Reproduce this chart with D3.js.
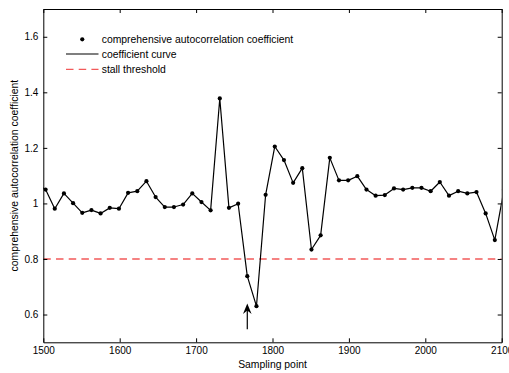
<!DOCTYPE html>
<html>
<head>
<meta charset="utf-8">
<script src="https://cdn.jsdelivr.net/npm/d3@7"></script>
<style>
  html, body { margin: 0; padding: 0; background: #fff; }
  svg { display: block; }
  text { font-family: Arial, "Liberation Sans", sans-serif; fill: #000; }
</style>
</head>
<body>
<svg id="chart" width="509" height="373"></svg>
<script>
// Sampling points (every 12 samples; the first and last fall just outside the axis range)
const samplePoints = [1491, 1503, 1515, 1527, 1539, 1551, 1563, 1575, 1587, 1599,
  1611, 1623, 1635, 1647, 1659, 1671, 1683, 1695, 1707, 1719,
  1731, 1743, 1755, 1767, 1779, 1791, 1803, 1815, 1827, 1839,
  1851, 1863, 1875, 1887, 1899, 1911, 1923, 1935, 1947, 1959,
  1971, 1983, 1995, 2007, 2019, 2031, 2043, 2055, 2067, 2079,
  2091, 2103];

// Comprehensive autocorrelation coefficient at each sampling point
const coefficients = [1.070, 1.050, 0.981, 1.036, 1.001, 0.966, 0.976, 0.964, 0.984, 0.981,
  1.038, 1.044, 1.080, 1.023, 0.987, 0.987, 0.996, 1.036, 1.005, 0.975,
  1.378, 0.984, 0.999, 0.738, 0.630, 1.031, 1.205, 1.156, 1.074, 1.127,
  0.834, 0.885, 1.164, 1.083, 1.083, 1.098, 1.050, 1.028, 1.030, 1.054,
  1.050, 1.056, 1.056, 1.044, 1.077, 1.028, 1.044, 1.036, 1.041, 0.964,
  0.868, 1.050];

const stallThreshold = 0.8;

// Axis ticks
const xTicks = [1500, 1600, 1700, 1800, 1900, 2000, 2100];
const yTicks = [0.6, 0.8, 1.0, 1.2, 1.4, 1.6];
const yTickLabels = ["0.6", "0.8", "1", "1.2", "1.4", "1.6"];

// Stall onset marker (arrow from base to tip, in data units)
const stallArrow = { x: 1767, yBase: 0.547, yTip: 0.640 };

const legendLabels = ["comprehensive autocorrelation coefficient", "coefficient curve", "stall threshold"];

const svg = d3.select("#chart");
const W = 509, H = 373;
const margin = { left: 43.3, right: 7.3, top: 9, bottom: 30.7 };
const iw = W - margin.left - margin.right;
const ih = H - margin.top - margin.bottom;

const x = d3.scaleLinear().domain([1500, 2100]).range([margin.left, margin.left + iw]);
const y = d3.scaleLinear().domain([0.5, 1.7]).range([margin.top + ih, margin.top]);

const data = samplePoints.map((s, i) => ({ s, v: coefficients[i] }));

svg.append("defs").append("clipPath").attr("id", "plot-clip")
  .append("rect")
  .attr("x", margin.left).attr("y", margin.top)
  .attr("width", iw).attr("height", ih);

const RED = "#f25a5a";

// Threshold line
svg.append("line")
  .attr("clip-path", "url(#plot-clip)")
  .attr("x1", x(1500)).attr("x2", x(2100))
  .attr("y1", y(stallThreshold)).attr("y2", y(stallThreshold))
  .attr("stroke", RED).attr("stroke-width", 1.3)
  .attr("stroke-dasharray", "7.5,5.2");

// Coefficient curve
const plot = svg.append("g").attr("clip-path", "url(#plot-clip)");
plot.append("path")
  .datum(data)
  .attr("fill", "none")
  .attr("stroke", "#000")
  .attr("stroke-width", 1.2)
  .attr("stroke-linejoin", "round")
  .attr("d", d3.line().x(d => x(d.s)).y(d => y(d.v)));

plot.selectAll("circle.pt")
  .data(data)
  .join("circle")
  .attr("class", "pt")
  .attr("cx", d => x(d.s)).attr("cy", d => y(d.v))
  .attr("r", 2.1)
  .attr("fill", "#000");

// Axes with inward ticks on all four sides
const tickLen = 4;
const axisStyle = g => {
  g.selectAll(".domain").attr("stroke", "#000").attr("stroke-width", 1);
  g.selectAll(".tick line").attr("stroke", "#000").attr("stroke-width", 1);
  g.selectAll("text").attr("font-size", "10px").attr("font-family", "Arial, 'Liberation Sans', sans-serif").attr("fill", "#000");
};

svg.append("g")
  .attr("transform", `translate(0,${margin.top + ih})`)
  .call(d3.axisBottom(x).tickValues(xTicks).tickSizeInner(-tickLen).tickSizeOuter(0).tickPadding(5).tickFormat(d3.format("d")))
  .call(axisStyle);

svg.append("g")
  .attr("transform", `translate(0,${margin.top})`)
  .call(d3.axisTop(x).tickValues(xTicks).tickSizeInner(-tickLen).tickSizeOuter(0).tickFormat(""))
  .call(axisStyle);

svg.append("g")
  .attr("transform", `translate(${margin.left},0)`)
  .call(d3.axisLeft(y).tickValues(yTicks).tickSizeInner(-tickLen).tickSizeOuter(0).tickPadding(5)
    .tickFormat((d, i) => yTickLabels[i]))
  .call(axisStyle);

svg.append("g")
  .attr("transform", `translate(${margin.left + iw},0)`)
  .call(d3.axisRight(y).tickValues(yTicks).tickSizeInner(-tickLen).tickSizeOuter(0).tickFormat(""))
  .call(axisStyle);

// Axis titles
svg.append("text")
  .attr("x", margin.left + iw / 2).attr("y", 368)
  .attr("text-anchor", "middle").attr("font-size", "10.4px")
  .text("Sampling point");

svg.append("text")
  .attr("transform", `translate(17.5,${margin.top + ih / 2}) rotate(-90)`)
  .attr("text-anchor", "middle").attr("font-size", "10.4px")
  .text("comprehensive autocorrelation coefficient");

// Stall onset arrow
const ax = x(stallArrow.x), ayTip = y(stallArrow.yTip), ayBase = y(stallArrow.yBase);
svg.append("line")
  .attr("x1", ax).attr("x2", ax)
  .attr("y1", ayBase).attr("y2", ayTip + 6)
  .attr("stroke", "#000").attr("stroke-width", 1.2);
svg.append("path")
  .attr("d", `M${ax},${ayTip} L${ax - 4.3},${ayTip + 10.5} L${ax},${ayTip + 7} L${ax + 4.3},${ayTip + 10.5} Z`)
  .attr("fill", "#000");

// Legend
const lg = svg.append("g").attr("font-size", "10.4px");
const lx0 = 66, lx1 = 98.5, ltx = 101.7;
const rows = [39.3, 54, 69.3];
lg.append("circle").attr("cx", (lx0 + lx1) / 2).attr("cy", rows[0]).attr("r", 2.1).attr("fill", "#000");
lg.append("line").attr("x1", lx0).attr("x2", lx1).attr("y1", rows[1]).attr("y2", rows[1])
  .attr("stroke", "#000").attr("stroke-width", 1.2);
lg.append("line").attr("x1", lx0).attr("x2", lx1).attr("y1", rows[2]).attr("y2", rows[2])
  .attr("stroke", RED).attr("stroke-width", 1.3).attr("stroke-dasharray", "7.5,5.2");
legendLabels.forEach((t, i) => {
  lg.append("text").attr("x", ltx).attr("y", rows[i]).attr("dy", "0.35em").text(t);
});
</script>
</body>
</html>
